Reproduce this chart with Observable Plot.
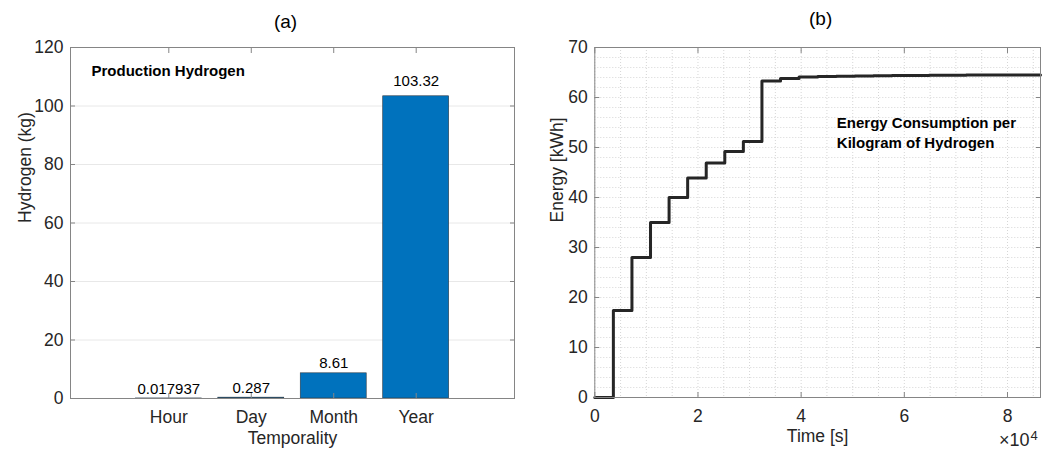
<!DOCTYPE html>
<html>
<head>
<meta charset="utf-8">
<script src="https://cdn.jsdelivr.net/npm/d3@7"></script>
<script src="https://cdn.jsdelivr.net/npm/@observablehq/plot@0.6"></script>
<style>
  body { margin: 0; background: #fff; }
  #wrap { position: relative; width: 1056px; height: 452px; overflow: hidden; background: #fff;
          font-family: "Liberation Sans", Arial, Helvetica, sans-serif; }
  #wrap > svg { position: absolute; top: 0; }
</style>
</head>
<body>
<div id="wrap"></div>
<script>
// Panel (a): hydrogen produced per period
const categories = ["Hour", "Day", "Month", "Year"];
const hydrogenKg = [0.017937, 0.287, 8.61, 103.32];
const hydrogenLabels = ["0.017937", "0.287", "8.61", "103.32"];
const hydrogenTicks = [0, 20, 40, 60, 80, 100, 120];

// Panel (b): cumulative energy per kilogram of hydrogen, hourly samples over one day
const timeSeconds = [0, 3600, 7200, 10800, 14400, 18000, 21600, 25200, 28800, 32400,
  36000, 39600, 43200, 46800, 50400, 54000, 57600, 61200, 64800, 68400,
  72000, 75600, 79200, 82800, 86400];
const energyKWh = [0, 17.4, 28.0, 35.0, 40.0, 43.9, 46.9, 49.2, 51.2, 63.3,
  63.8, 64.1, 64.2, 64.25, 64.3, 64.35, 64.4, 64.4, 64.45, 64.45,
  64.5, 64.5, 64.5, 64.5, 64.5];
const timeTicks = [0, 20000, 40000, 60000, 80000];
const energyTicks = [0, 10, 20, 30, 40, 50, 60, 70];

const fontFamily = '"Liberation Sans", Arial, Helvetica, sans-serif';
const ink = "#262626";
const axisGray = "#858585";
const tickFont = 17.5;

const wrap = document.getElementById("wrap");

// ---------- (a) bar chart ----------
const bars = categories.map((c, i) => ({category: c, pos: i + 1, value: hydrogenKg[i], label: hydrogenLabels[i]}));
const positions = bars.map(d => d.pos);

const left = Plot.plot({
  width: 528, height: 452,
  marginLeft: 70, marginRight: 14, marginTop: 47, marginBottom: 54,
  style: {fontFamily, fontSize: tickFont + "px", color: ink, background: "white", overflow: "visible"},
  x: {domain: [-0.192, 5.192], label: null},
  y: {domain: [0, 120], label: null},
  marks: [
    Plot.gridY(hydrogenTicks, {stroke: "#e8e8e8", strokeOpacity: 1}),
    Plot.rectY(bars, {x1: d => d.pos - 0.4, x2: d => d.pos + 0.4, y: "value",
      fill: "#0072BD", stroke: "#2e3a44", strokeWidth: 0.6}),
    Plot.frame({stroke: axisGray}),
    Plot.axisY(hydrogenTicks, {anchor: "left", tickSize: -5, tickPadding: 12, stroke: axisGray, fill: ink}),
    Plot.axisY(hydrogenTicks, {anchor: "right", tickSize: -5, tickFormat: () => "", stroke: axisGray}),
    Plot.axisX(positions, {anchor: "bottom", tickSize: -5, tickPadding: 17, stroke: axisGray, fill: ink,
      tickFormat: d => categories[d - 1]}),
    Plot.axisX(positions, {anchor: "top", tickSize: -5, tickFormat: () => "", stroke: axisGray}),
    Plot.text(bars, {x: "pos", y: d => d.value * 1.02, text: "label", dy: -9.5, fontSize: 15, fill: "#000"}),
    Plot.text(["Production Hydrogen"], {frameAnchor: "top-left", dx: 21, dy: 18, lineAnchor: "top",
      textAnchor: "start", fontWeight: "bold", fontSize: 15, fill: "#000"}),
    Plot.text(["(a)"], {frameAnchor: "top", dx: -7, dy: -33, fontSize: 19, fill: "#000"}),
    Plot.text(["Temporality"], {frameAnchor: "bottom", dy: 45, fontSize: tickFont, fill: ink}),
    Plot.text(["Hydrogen (kg)"], {frameAnchor: "left", dx: -45, rotate: -90, fontSize: tickFont, fill: ink})
  ]
});
left.style.left = "0px";
wrap.appendChild(left);

// ---------- (b) step line ----------
const energy = timeSeconds.map((t, i) => ({t, e: energyKWh[i]}));
const timeMinor = d3.range(0, 86401, 5000);
const energyMinor = d3.range(0, 71, 2);

const right = Plot.plot({
  width: 528, height: 452,
  marginLeft: 66.3, marginRight: 16, marginTop: 47, marginBottom: 55,
  style: {fontFamily, fontSize: tickFont + "px", color: ink, background: "white", overflow: "visible"},
  x: {domain: [0, 86400], label: null},
  y: {domain: [0, 70], label: null},
  marks: [
    Plot.gridX(timeMinor, {stroke: "#d6d6d6", strokeOpacity: 1, strokeDasharray: "1,2"}),
    Plot.gridY(energyMinor, {stroke: "#d6d6d6", strokeOpacity: 1, strokeDasharray: "1,2"}),
    Plot.line(energy, {x: "t", y: "e", curve: "step-after", stroke: "#262626", strokeWidth: 3}),
    Plot.frame({stroke: axisGray}),
    Plot.axisY(energyTicks, {anchor: "left", tickSize: -5, tickPadding: 12, stroke: axisGray, fill: ink}),
    Plot.axisY(energyTicks, {anchor: "right", tickSize: -5, tickFormat: () => "", stroke: axisGray}),
    Plot.axisX(timeTicks, {anchor: "bottom", tickSize: -5, tickPadding: 17, stroke: axisGray, fill: ink,
      tickFormat: d => d / 1e4}),
    Plot.axisX(timeTicks, {anchor: "top", tickSize: -5, tickFormat: () => "", stroke: axisGray}),
    // axis multiplier ×10^4 below the right end of the time axis
    Plot.text(["×10"], {frameAnchor: "bottom-right", dx: -11, dy: 48, textAnchor: "end", fontSize: 18, fill: ink}),
    Plot.text(["4"], {frameAnchor: "bottom-right", dx: -10, dy: 42, textAnchor: "start", fontSize: 13, fill: ink}),
    Plot.text(["Energy Consumption per\nKilogram of Hydrogen"], {frameAnchor: "top-left", dx: 242, dy: 66,
      lineAnchor: "top", lineHeight: 1.33, textAnchor: "start", fontWeight: "bold", fontSize: 15, fill: "#000"}),
    Plot.text(["(b)"], {frameAnchor: "top", dx: 3, dy: -36, fontSize: 19, fill: "#000"}),
    Plot.text(["Time [s]"], {frameAnchor: "bottom", dy: 44, fontSize: tickFont, fill: ink}),
    Plot.text(["Energy [kWh]"], {frameAnchor: "left", dx: -37.6, rotate: -90, fontSize: tickFont, fill: ink})
  ]
});
right.style.left = "528px";
wrap.appendChild(right);
</script>
</body>
</html>
